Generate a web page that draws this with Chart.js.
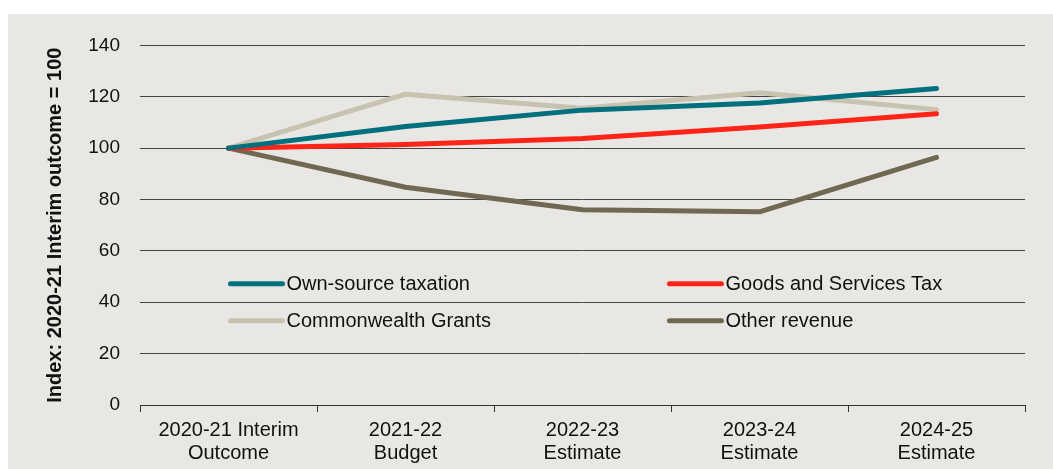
<!DOCTYPE html>
<html>
<head>
<meta charset="utf-8">
<script src="https://cdn.jsdelivr.net/npm/chart.js@4.4.1/dist/chart.umd.min.js"></script>
<style>
  html, body { margin: 0; padding: 0; background: #ffffff; }
  #wrap { position: absolute; left: 8px; top: 14px; width: 1045px; height: 455px; background: #e8e7e3; }
  canvas { display: block; }
</style>
</head>
<body>
<div id="wrap"><canvas id="c"></canvas></div>
<script>
const categories = [
  ['2020-21 Interim', 'Outcome'],
  ['2021-22', 'Budget'],
  ['2022-23', 'Estimate'],
  ['2023-24', 'Estimate'],
  ['2024-25', 'Estimate']
];
const ownSource = [100, 108.4, 114.8, 117.6, 123.2];
const gst = [100, 101.4, 103.8, 108.2, 113.4];
const cwthGrants = [100, 121.0, 115.5, 121.6, 115.0];
const otherRevenue = [100, 84.8, 76.0, 75.2, 96.4];
const seriesNames = ['Own-source taxation', 'Goods and Services Tax', 'Commonwealth Grants', 'Other revenue'];
const seriesColors = ['#006f7e', '#ff2418', '#c8c2b0', '#6f6853'];
const yTicks = [0, 20, 40, 60, 80, 100, 120, 140];

const regular = "'Liberation Sans', Arial, sans-serif";

const legendPlugin = {
  id: 'inlineLegend',
  afterDatasetsDraw(chart) {
    const ctx = chart.ctx;
    const ys = chart.scales.y;
    const xs = chart.scales.x;
    const colX = [xs.getPixelForValue(0), xs.getPixelForValue(2) + (xs.getPixelForValue(3) - xs.getPixelForValue(2)) * 0.48];
    const rowY = [ys.getPixelForValue(47.2), ys.getPixelForValue(32.8)];
    ctx.save();
    chart.data.datasets.forEach((ds, i) => {
      const cx = colX[i % 2];
      const cy = rowY[Math.floor(i / 2)];
      ctx.strokeStyle = ds.borderColor;
      ctx.lineWidth = 5;
      ctx.lineCap = 'round';
      ctx.beginPath();
      ctx.moveTo(cx + 2, cy);
      ctx.lineTo(cx + 54, cy);
      ctx.stroke();
      ctx.fillStyle = '#111';
      ctx.font = "20px " + regular;
      ctx.textBaseline = 'middle';
      ctx.textAlign = 'left';
      ctx.fillText(ds.label, cx + 58, cy + 1);
    });
    ctx.restore();
  }
};

new Chart(document.getElementById('c'), {
  type: 'line',
  data: {
    labels: categories,
    datasets: [
      { label: seriesNames[0], data: ownSource, borderColor: seriesColors[0] },
      { label: seriesNames[1], data: gst, borderColor: seriesColors[1] },
      { label: seriesNames[2], data: cwthGrants, borderColor: seriesColors[2] },
      { label: seriesNames[3], data: otherRevenue, borderColor: seriesColors[3] }
    ].map(d => Object.assign(d, {
      borderWidth: 5, pointRadius: 0, tension: 0, fill: false,
      borderCapStyle: 'round', borderJoinStyle: 'round'
    }))
  },
  options: {
    responsive: true,
    maintainAspectRatio: false,
    animation: false,
    layout: { padding: { left: 0, right: 28, top: 28, bottom: 0 } },
    plugins: { legend: { display: false }, tooltip: { enabled: false }, title: { display: false } },
    scales: {
      x: {
        offset: true,
        grid: { offset: true, drawOnChartArea: false, drawTicks: true, tickLength: 7, color: '#333', lineWidth: 1 },
        border: { display: true, color: '#333', width: 1 },
        ticks: { color: '#111', font: { family: regular, size: 20, lineHeight: 1.15 }, padding: 7, maxRotation: 0, autoSkip: false },
        afterFit(s) { s.height = 64; }
      },
      y: {
        min: 0, max: 140,
        afterBuildTicks(s) { s.ticks = yTicks.map(v => ({ value: v })); },
        grid: { drawTicks: false, color: '#444', lineWidth: 1 },
        border: { display: false },
        ticks: { color: '#111', font: { family: regular, size: 19 }, padding: 20 },
        title: { display: true, text: 'Index: 2020-21 Interim outcome = 100', color: '#111',
                 font: { family: regular, size: 20, weight: 'bold' }, padding: { top: 35, bottom: 0 } },
        afterFit(s) { s.width = 132; }
      }
    }
  },
  plugins: [legendPlugin]
});
</script>
</body>
</html>
